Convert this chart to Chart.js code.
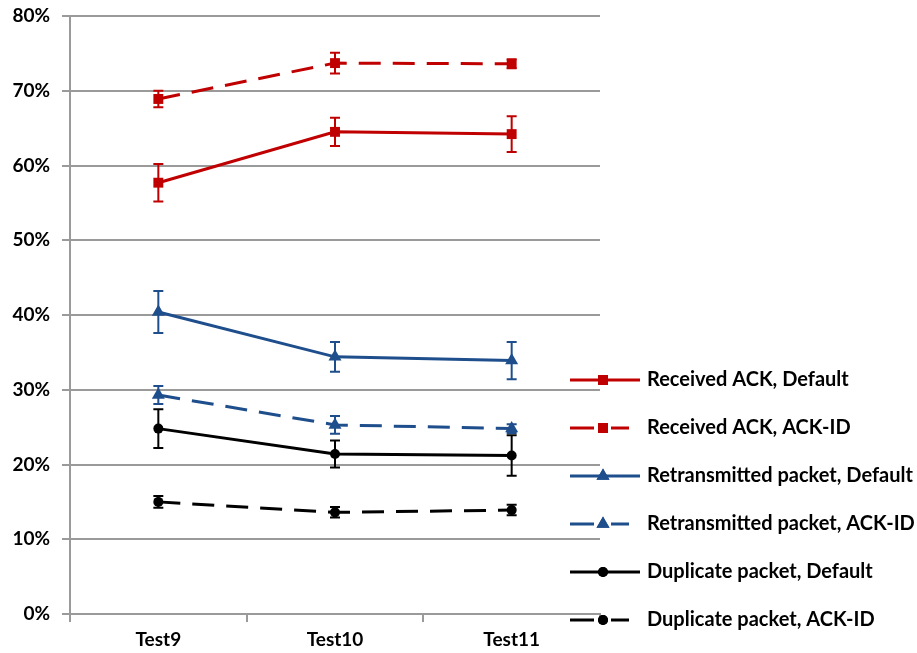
<!DOCTYPE html>
<html>
<head>
<meta charset="utf-8">
<script src="https://cdn.jsdelivr.net/npm/chart.js@4/dist/chart.umd.min.js"></script>
<style>
html,body{margin:0;padding:0;background:#fff;}
#wrap{width:917px;height:653px;position:relative;}
</style>
</head>
<body>
<div id="wrap"><canvas id="c" width="917" height="653"></canvas></div>
<script>
const categories = ["Test9", "Test10", "Test11"];
const yTicks = [0, 10, 20, 30, 40, 50, 60, 70, 80];

const receivedDefault = [57.7, 64.5, 64.2];
const receivedDefaultErr = [2.5, 1.9, 2.4];
const receivedAckId = [68.9, 73.7, 73.6];
const receivedAckIdErr = [1.1, 1.4, 0.6];

const retransDefault = [40.4, 34.4, 33.9];
const retransDefaultErr = [2.8, 2.0, 2.5];
const retransAckId = [29.3, 25.3, 24.8];
const retransAckIdErr = [1.2, 1.2, 0.6];

const dupDefault = [24.8, 21.4, 21.2];
const dupDefaultErr = [2.6, 1.8, 2.7];
const dupAckId = [15.0, 13.6, 13.9];
const dupAckIdErr = [0.8, 0.7, 0.7];

const seriesLabels = [
  "Received ACK, Default",
  "Received ACK, ACK-ID",
  "Retransmitted packet, Default",
  "Retransmitted packet, ACK-ID",
  "Duplicate packet, Default",
  "Duplicate packet, ACK-ID"
];

const RED = "#C00000", BLUE = "#1F4E8C", BLACK = "#000000";
const FONT = "Lato, 'Open Sans', sans-serif";

function ds(label, data, err, color, style, radius, dashed) {
  return {
    label, data, errors: err,
    borderColor: color, backgroundColor: color,
    borderWidth: 3,
    borderDash: dashed ? [22, 12] : [],
    pointStyle: style, pointRadius: radius, pointHoverRadius: radius,
    pointBorderWidth: 0,
    pointBackgroundColor: color, pointBorderColor: color,
    tension: 0, fill: false
  };
}

const datasets = [
  ds(seriesLabels[0], receivedDefault, receivedDefaultErr, RED, "rect", 7, false),
  ds(seriesLabels[1], receivedAckId, receivedAckIdErr, RED, "rect", 7, true),
  ds(seriesLabels[2], retransDefault, retransDefaultErr, BLUE, "triangle", 7.5, false),
  ds(seriesLabels[3], retransAckId, retransAckIdErr, BLUE, "triangle", 7.5, true),
  ds(seriesLabels[4], dupDefault, dupDefaultErr, BLACK, "circle", 5, false),
  ds(seriesLabels[5], dupAckId, dupAckIdErr, BLACK, "circle", 5, true)
];

const errorBars = {
  id: "errorBars",
  afterDatasetsDraw(chart) {
    const ctx = chart.ctx;
    const y = chart.scales.y;
    chart.data.datasets.forEach((d, di) => {
      const meta = chart.getDatasetMeta(di);
      ctx.save();
      ctx.strokeStyle = d.borderColor;
      ctx.lineWidth = 2;
      ctx.setLineDash([]);
      meta.data.forEach((pt, i) => {
        const v = d.data[i], e = d.errors[i];
        const yt = y.getPixelForValue(v + e), yb = y.getPixelForValue(v - e);
        const x = pt.x, cw = 5;
        ctx.beginPath();
        ctx.moveTo(x, yt); ctx.lineTo(x, yb);
        ctx.moveTo(x - cw, yt); ctx.lineTo(x + cw, yt);
        ctx.moveTo(x - cw, yb); ctx.lineTo(x + cw, yb);
        ctx.stroke();
      });
      ctx.restore();
    });
  }
};

const customLegend = {
  id: "customLegend",
  afterDraw(chart) {
    const ctx = chart.ctx;
    const x0 = 570, x1 = 640, mx = 603, tx = 647;
    chart.data.datasets.forEach((d, i) => {
      const yy = 380 + i * 48;
      ctx.save();
      ctx.strokeStyle = d.borderColor;
      ctx.fillStyle = d.borderColor;
      ctx.lineWidth = 3;
      ctx.beginPath();
      if (d.borderDash.length) {
        ctx.moveTo(x0, yy); ctx.lineTo(x0 + 24, yy);
        ctx.moveTo(611, yy); ctx.lineTo(629, yy);
      } else {
        ctx.moveTo(x0, yy); ctx.lineTo(x1, yy);
      }
      ctx.stroke();
      Chart.helpers.drawPoint(ctx, {pointStyle: d.pointStyle, radius: d.pointRadius, borderWidth: 0, rotation: 0}, mx, yy);
      ctx.fill();
      ctx.fillStyle = "#000";
      ctx.font = "bold 20px " + FONT;
      ctx.textBaseline = "middle";
      ctx.textAlign = "left";
      ctx.fillText(d.label, tx, yy);
      ctx.restore();
    });
  }
};

new Chart(document.getElementById("c"), {
  type: "line",
  data: { labels: categories, datasets },
  plugins: [errorBars, customLegend],
  options: {
    responsive: false,
    animation: false,
    layout: { padding: { left: 0, right: 317, top: 16, bottom: 0 } },
    plugins: { legend: { display: false }, tooltip: { enabled: false } },
    scales: {
      x: {
        type: "category",
        offset: true,
        grid: { offset: true, drawOnChartArea: false, drawTicks: true, tickLength: 8, color: "#9a9a9a", lineWidth: 2 },
        border: { display: true, color: "#9a9a9a", width: 2 },
        ticks: { color: "#000", font: { family: FONT, size: 19, weight: "bold" }, padding: 6, maxRotation: 0 },
        afterFit(s) { s.height = 39; s.paddingLeft = 0; s.paddingRight = 0; }
      },
      y: {
        min: 0, max: 80,
        afterBuildTicks(s) { s.ticks = yTicks.map(v => ({ value: v })); },
        grid: { color: "#9a9a9a", lineWidth: 2, tickLength: 8, drawTicks: true },
        border: { display: true, color: "#9a9a9a", width: 2 },
        ticks: { color: "#000", font: { family: FONT, size: 19, weight: "bold" }, padding: 12, callback: v => v + "%" },
        afterFit(s) { s.width = 70; s.paddingTop = 0; s.paddingBottom = 0; }
      }
    }
  }
});
</script>
</body>
</html>
